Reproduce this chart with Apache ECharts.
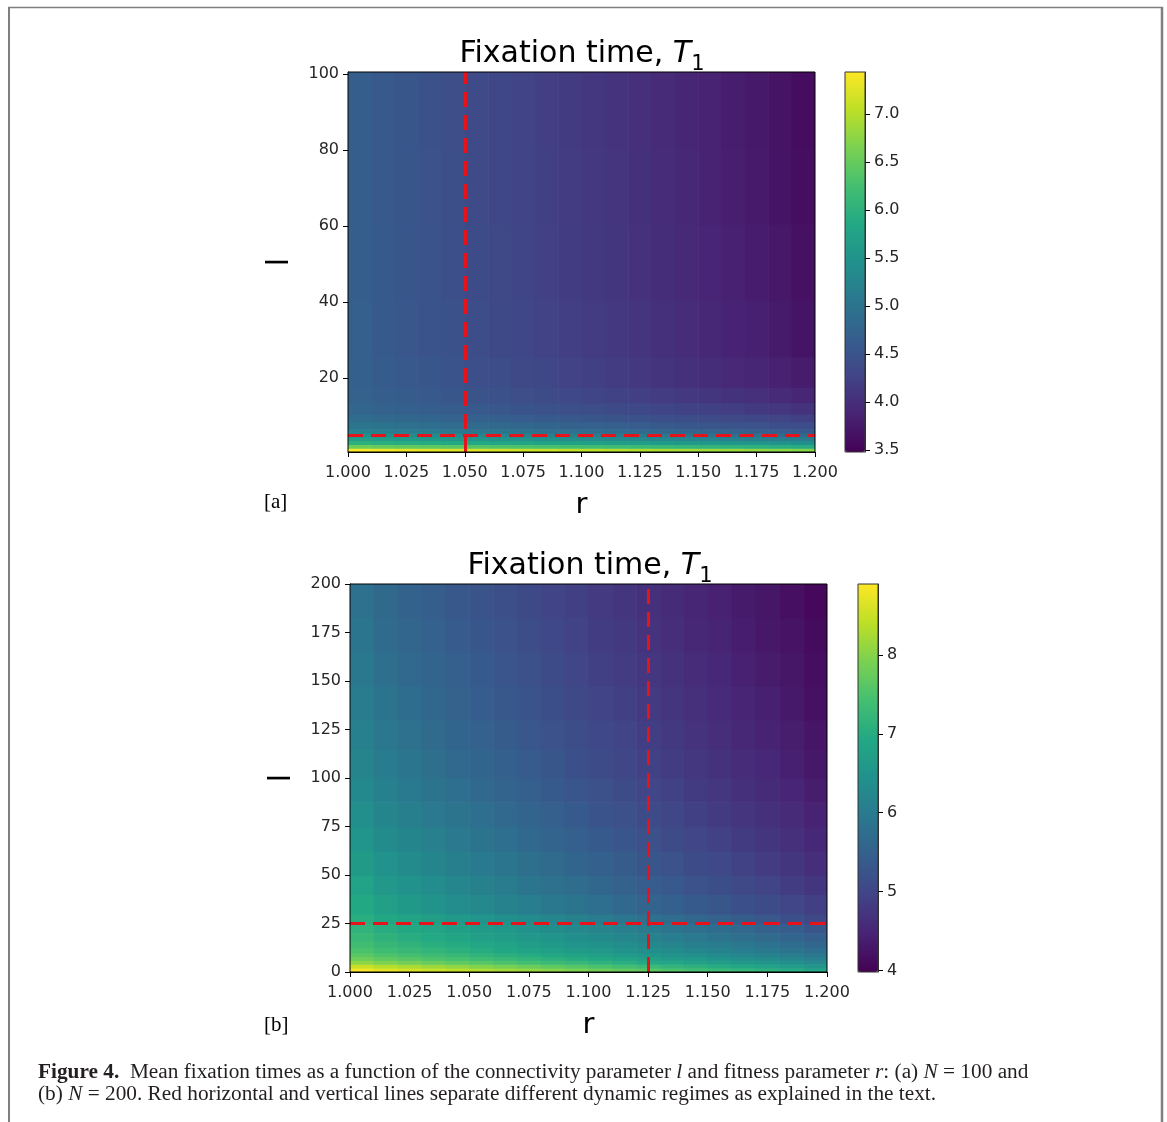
<!DOCTYPE html>
<html><head><meta charset="utf-8">
<script src="https://cdn.jsdelivr.net/npm/echarts@6/dist/echarts.min.js"></script>
<style>html,body{margin:0;padding:0;background:#fff}#c{width:1167px;height:1122px}</style>
</head><body><div id="c"></div>
<script>
// ---- data ----
const rEdges = [1.00,1.01,1.02,1.03,1.04,1.05,1.06,1.07,1.08,1.09,1.10,1.11,1.12,1.13,1.14,1.15,1.16,1.17,1.18,1.19,1.20];
const rTicks = [1.000,1.025,1.050,1.075,1.100,1.125,1.150,1.175,1.200];

// panel (a) N = 100 : row edges in l, rows listed bottom -> top
const lEdgesA = [0.5,1.5,2.5,3.5,4.5,5.5,6.5,8.5,10.5,13.5,17.5,25.5,40.5,60.5,80.5,100.5];
const T1a = [
 [7.42,7.37,7.33,7.30,7.26,7.23,7.19,7.15,7.12,7.08,7.05,7.01,6.97,6.94,6.90,6.87,6.83,6.79,6.75,6.70],
 [6.55,6.50,6.47,6.44,6.41,6.37,6.34,6.31,6.28,6.24,6.21,6.18,6.15,6.11,6.08,6.05,6.02,5.98,5.95,5.90],
 [6.00,5.96,5.93,5.91,5.88,5.85,5.82,5.80,5.77,5.74,5.71,5.69,5.66,5.63,5.60,5.58,5.55,5.52,5.49,5.45],
 [5.70,5.66,5.63,5.60,5.57,5.54,5.51,5.49,5.46,5.43,5.40,5.37,5.34,5.31,5.28,5.25,5.22,5.20,5.16,5.12],
 [5.45,5.41,5.38,5.35,5.32,5.29,5.26,5.23,5.20,5.17,5.14,5.11,5.08,5.05,5.02,4.99,4.96,4.93,4.89,4.85],
 [5.22,5.18,5.15,5.11,5.08,5.05,5.02,4.99,4.96,4.93,4.90,4.87,4.84,4.80,4.77,4.74,4.71,4.68,4.64,4.60],
 [5.02,4.98,4.95,4.91,4.88,4.85,4.82,4.79,4.76,4.73,4.70,4.67,4.64,4.60,4.57,4.54,4.51,4.48,4.44,4.40],
 [4.88,4.83,4.80,4.77,4.73,4.70,4.67,4.64,4.60,4.57,4.54,4.50,4.47,4.44,4.40,4.37,4.34,4.31,4.27,4.22],
 [4.78,4.73,4.69,4.66,4.62,4.58,4.55,4.51,4.47,4.44,4.40,4.36,4.33,4.29,4.25,4.22,4.18,4.14,4.10,4.05],
 [4.72,4.66,4.62,4.58,4.54,4.50,4.46,4.42,4.38,4.33,4.29,4.25,4.21,4.17,4.13,4.09,4.05,4.01,3.96,3.90],
 [4.69,4.63,4.58,4.54,4.49,4.44,4.40,4.35,4.31,4.26,4.22,4.17,4.13,4.08,4.03,3.99,3.94,3.90,3.84,3.78],
 [4.67,4.60,4.55,4.51,4.46,4.41,4.36,4.31,4.26,4.21,4.17,4.12,4.07,4.02,3.97,3.92,3.87,3.83,3.77,3.70],
 [4.66,4.59,4.54,4.49,4.44,4.39,4.34,4.29,4.24,4.19,4.14,4.09,4.04,3.99,3.94,3.89,3.84,3.79,3.73,3.66],
 [4.65,4.58,4.53,4.48,4.43,4.37,4.32,4.27,4.22,4.17,4.12,4.07,4.02,3.97,3.92,3.86,3.81,3.76,3.70,3.63],
 [4.65,4.58,4.53,4.47,4.42,4.37,4.32,4.27,4.21,4.16,4.11,4.06,4.01,3.95,3.90,3.85,3.80,3.75,3.68,3.61]
];
const lTicksA = [20,40,60,80,100];
const cbTicksA = [3.5,4.0,4.5,5.0,5.5,6.0,6.5,7.0];
const rangeA = [3.48, 7.44];
const regimeA = {r: 1.05, l: 5};

// panel (b) N = 200
const lEdgesB = [0,2,4,6,8,10,13,16,20,25,30,40,50,62.5,75,87.5,100,115,130,147.5,165,182.5,200];
const T1b = [
 [8.85,8.71,8.61,8.51,8.41,8.31,8.21,8.11,8.01,7.91,7.81,7.71,7.61,7.51,7.41,7.31,7.21,7.11,6.99,6.85],
 [8.50,8.36,8.27,8.17,8.07,7.97,7.88,7.78,7.68,7.58,7.49,7.39,7.29,7.19,7.10,7.00,6.90,6.80,6.69,6.55],
 [8.05,7.93,7.84,7.75,7.66,7.58,7.49,7.40,7.31,7.23,7.14,7.05,6.96,6.88,6.79,6.70,6.61,6.53,6.42,6.30],
 [7.80,7.68,7.60,7.51,7.43,7.34,7.26,7.17,7.09,7.00,6.92,6.83,6.75,6.66,6.58,6.49,6.41,6.32,6.22,6.10],
 [7.62,7.50,7.42,7.33,7.25,7.16,7.08,6.99,6.91,6.82,6.74,6.65,6.57,6.48,6.40,6.31,6.23,6.14,6.04,5.92],
 [7.47,7.35,7.26,7.18,7.09,7.01,6.92,6.83,6.75,6.66,6.58,6.49,6.40,6.32,6.23,6.15,6.06,5.97,5.87,5.75],
 [7.36,7.24,7.15,7.06,6.97,6.88,6.80,6.71,6.62,6.53,6.44,6.36,6.27,6.18,6.09,6.00,5.92,5.83,5.72,5.60],
 [7.26,7.13,7.04,6.95,6.86,6.77,6.68,6.59,6.50,6.41,6.32,6.23,6.14,6.05,5.96,5.87,5.78,5.69,5.58,5.45],
 [7.16,7.03,6.94,6.84,6.75,6.66,6.56,6.47,6.38,6.29,6.19,6.10,6.01,5.91,5.82,5.73,5.63,5.54,5.43,5.30],
 [7.06,6.92,6.82,6.72,6.62,6.52,6.42,6.32,6.22,6.12,6.01,5.91,5.81,5.71,5.61,5.51,5.41,5.31,5.19,5.05],
 [6.94,6.73,6.61,6.49,6.36,6.26,6.16,6.05,5.95,5.85,5.75,5.66,5.56,5.48,5.37,5.29,5.19,5.11,5.00,4.88],
 [6.80,6.59,6.47,6.35,6.22,6.12,6.02,5.91,5.81,5.71,5.61,5.52,5.42,5.34,5.23,5.15,5.05,4.97,4.86,4.74],
 [6.66,6.46,6.33,6.21,6.09,5.99,5.88,5.78,5.68,5.58,5.48,5.40,5.29,5.21,5.11,5.03,4.93,4.84,4.74,4.62],
 [6.52,6.32,6.20,6.08,5.96,5.86,5.76,5.66,5.56,5.46,5.36,5.28,5.18,5.10,5.00,4.92,4.82,4.74,4.64,4.52],
 [6.40,6.20,6.09,5.97,5.85,5.75,5.66,5.56,5.46,5.36,5.26,5.18,5.09,5.01,4.91,4.83,4.73,4.66,4.56,4.44],
 [6.29,6.10,5.98,5.87,5.75,5.66,5.56,5.46,5.37,5.27,5.18,5.10,5.00,4.93,4.83,4.75,4.66,4.58,4.49,4.37],
 [6.19,6.00,5.89,5.78,5.66,5.57,5.48,5.38,5.29,5.19,5.10,5.02,4.93,4.86,4.76,4.69,4.59,4.52,4.42,4.31],
 [6.10,5.92,5.81,5.70,5.58,5.49,5.40,5.31,5.22,5.12,5.03,4.96,4.87,4.79,4.70,4.63,4.54,4.46,4.37,4.26],
 [6.02,5.84,5.73,5.62,5.51,5.42,5.33,5.24,5.15,5.06,4.97,4.90,4.81,4.73,4.64,4.57,4.48,4.41,4.32,4.21],
 [5.95,5.77,5.66,5.56,5.45,5.36,5.27,5.18,5.09,5.00,4.91,4.84,4.75,4.68,4.59,4.52,4.43,4.36,4.27,4.16],
 [5.88,5.70,5.60,5.49,5.39,5.30,5.21,5.12,5.04,4.95,4.86,4.79,4.70,4.63,4.54,4.47,4.38,4.31,4.23,4.12],
 [5.82,5.65,5.54,5.44,5.33,5.25,5.16,5.07,4.98,4.90,4.81,4.74,4.65,4.58,4.50,4.43,4.34,4.27,4.18,4.08]
];
const lTicksB = [0,25,50,75,100,125,150,175,200];
const cbTicksB = [4,5,6,7,8];
const rangeB = [3.98, 8.90];
const regimeB = {r: 1.125, l: 25};

const viridis = ['#440154','#482475','#414487','#355f8d','#2a788e','#21918c','#22a884','#44bf70','#7ad151','#bddf26','#fde725'];

// ---- build cells ----
function cells(lEdges, T) {
  const out = [];
  for (let i = 0; i < T.length; i++)
    for (let j = 0; j < T[i].length; j++)
      out.push([rEdges[j], rEdges[j+1], lEdges[i], lEdges[i+1], T[i][j]]);
  return out;
}
function renderCell(params, api) {
  const p0 = api.coord([api.value(0), api.value(3)]);
  const p1 = api.coord([api.value(1), api.value(2)]);
  return {type: 'rect', shape: {x: p0[0], y: p0[1], width: p1[0]-p0[0]+0.6, height: p1[1]-p0[1]+0.6},
          style: {fill: api.visual('color')}};
}

const F = 'DejaVu Sans';
const tickLbl = {fontSize: 16, color: '#262626', fontFamily: F};
function xAx(gi) {
  return {gridIndex: gi, type: 'value', min: 1.0, max: 1.2,
    axisLine: {show: true, onZero: false, lineStyle: {color: '#000', width: 1}},
    axisTick: {show: true, inside: false, length: 5, customValues: rTicks, lineStyle: {color: '#000'}},
    axisLabel: Object.assign({customValues: rTicks, margin: 13, formatter: v => v.toFixed(3)}, tickLbl),
    splitLine: {show: false},
    name: 'r', nameLocation: 'middle', nameGap: 39,
    nameTextStyle: {fontSize: 29, fontFamily: F, color: '#000'}};
}
function yAx(gi, min, max, ticks) {
  return {gridIndex: gi, type: 'value', min: min, max: max,
    axisLine: {show: true, onZero: false, lineStyle: {color: '#000', width: 1}},
    axisTick: {show: true, inside: false, length: 5, customValues: ticks, lineStyle: {color: '#000'}},
    axisLabel: Object.assign({customValues: ticks, margin: 9}, tickLbl),
    splitLine: {show: false},
    name: 'l', nameLocation: 'middle', nameRotate: 90, nameGap: 53,
    nameTextStyle: {fontSize: 30, fontFamily: F, color: '#000'}};
}
function cbAx(gi, rng, ticks, fmt) {
  return {gridIndex: gi, type: 'value', position: 'right', min: rng[0], max: rng[1],
    axisLine: {show: true, onZero: false, lineStyle: {color: '#333', width: 1}},
    axisTick: {show: true, inside: false, length: 5, customValues: ticks, lineStyle: {color: '#000', width: 1}},
    axisLabel: Object.assign({customValues: ticks, margin: 9, formatter: fmt}, tickLbl),
    splitLine: {show: false}};
}
function regimeLines(xi, regime) {
  return {type: 'line', xAxisIndex: xi, yAxisIndex: xi, data: [], silent: true, z: 5,
    markLine: {silent: true, symbol: 'none', animation: false, precision: 5,
      label: {show: false},
      lineStyle: {color: '#e8121b', width: 3, type: [15, 8]},
      data: [{xAxis: regime.r}, {yAxis: regime.l}]}};
}
function title(x, y) {
  return {type: 'text', x: x, y: y, z: 100,
    style: {text: '{n|Fixation time, }{t|T}{s|1}', align: 'center', verticalAlign: 'middle',
      rich: {
        n: {fontSize: 30, fontFamily: F, fill: '#000', lineHeight: 36, verticalAlign: 'top'},
        t: {fontSize: 30, fontFamily: F, fontStyle: 'italic', fill: '#000', lineHeight: 36, verticalAlign: 'top'},
        s: {fontSize: 21, fontFamily: F, fill: '#000', lineHeight: 23, verticalAlign: 'bottom'}
      }}};
}
const SERIF = 'Liberation Serif';
const CAP = 21.3;
const capRich = {
  b: {fontFamily: SERIF, fontWeight: 'bold', fontSize: CAP, fill: '#231f20'},
  i: {fontFamily: SERIF, fontStyle: 'italic', fontSize: CAP, fill: '#231f20'}
};

const chart = echarts.init(document.getElementById('c'), null, {renderer: 'canvas'});
chart.setOption({
  animation: false,
  backgroundColor: '#fff',
  grid: [
    {left: 348, top: 72, width: 467, height: 380, show: true, borderColor: '#000', borderWidth: 1, z: 10},
    {left: 350, top: 584, width: 477, height: 388, show: true, borderColor: '#000', borderWidth: 1, z: 10},
    {left: 845, top: 72, width: 20, height: 380, show: true, borderColor: '#333', borderWidth: 1, z: 10},
    {left: 858, top: 584, width: 20, height: 388, show: true, borderColor: '#333', borderWidth: 1, z: 10}
  ],
  xAxis: [xAx(0), xAx(1),
    {gridIndex: 2, type: 'value', show: false}, {gridIndex: 3, type: 'value', show: false}],
  yAxis: [yAx(0, 0.5, 100.5, lTicksA), yAx(1, 0, 200, lTicksB),
    cbAx(2, rangeA, cbTicksA, v => v.toFixed(1)), cbAx(3, rangeB, cbTicksB, v => String(v))],
  visualMap: [
    {type: 'continuous', seriesIndex: 0, dimension: 4, min: rangeA[0], max: rangeA[1],
     inRange: {color: viridis}, calculable: false, orient: 'vertical', left: 845, top: 72,
     itemWidth: 20, itemHeight: 380, padding: 0, hoverLink: false},
    {type: 'continuous', seriesIndex: 1, dimension: 4, min: rangeB[0], max: rangeB[1],
     inRange: {color: viridis}, calculable: false, orient: 'vertical', left: 858, top: 584,
     itemWidth: 20, itemHeight: 388, padding: 0, hoverLink: false}
  ],
  series: [
    {type: 'custom', xAxisIndex: 0, yAxisIndex: 0, renderItem: renderCell, data: cells(lEdgesA, T1a),
     encode: {x: [0, 1], y: [2, 3]}, clip: true, silent: true},
    {type: 'custom', xAxisIndex: 1, yAxisIndex: 1, renderItem: renderCell, data: cells(lEdgesB, T1b),
     encode: {x: [0, 1], y: [2, 3]}, clip: true, silent: true},
    regimeLines(0, regimeA),
    regimeLines(1, regimeB)
  ],
  graphic: [
    {type: 'line', shape: {x1: 8, y1: 7.5, x2: 1163, y2: 7.5}, style: {stroke: '#7f7f7f', lineWidth: 1.5}},
    {type: 'line', shape: {x1: 9, y1: 7, x2: 9, y2: 1122}, style: {stroke: '#7f7f7f', lineWidth: 2}},
    {type: 'line', shape: {x1: 1162, y1: 7, x2: 1162, y2: 1122}, style: {stroke: '#7f7f7f', lineWidth: 2.5}},
    title(582, 57),
    title(590, 569),
    {type: 'text', x: 264, y: 502, style: {text: '[a]', fontFamily: SERIF, fontSize: 21, fill: '#000', verticalAlign: 'middle'}},
    {type: 'text', x: 264, y: 1025, style: {text: '[b]', fontFamily: SERIF, fontSize: 21, fill: '#000', verticalAlign: 'middle'}},
    {type: 'text', x: 38, y: 1072, style: {
      text: '{b|Figure 4.}  Mean fixation times as a function of the connectivity parameter {i|l} and fitness parameter {i|r}: (a) {i|N} = 100 and',
      fontFamily: SERIF, fontSize: CAP, fill: '#231f20', verticalAlign: 'middle', rich: capRich}},
    {type: 'text', x: 38, y: 1094, style: {
      text: '(b) {i|N} = 200. Red horizontal and vertical lines separate different dynamic regimes as explained in the text.',
      fontFamily: SERIF, fontSize: CAP, fill: '#231f20', verticalAlign: 'middle', rich: capRich}}
  ]
});
</script></body></html>
